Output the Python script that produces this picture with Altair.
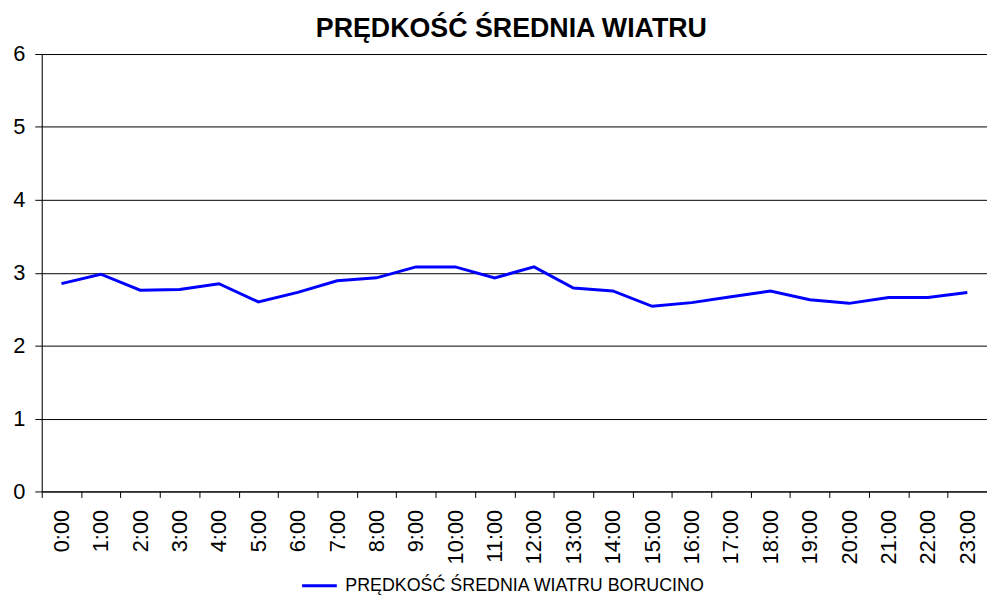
import altair as alt
import pandas as pd

hours = [f"{h}:00" for h in range(24)]
speed = [2.85, 2.98, 2.76, 2.77, 2.85, 2.60, 2.73, 2.89, 2.93, 3.08, 3.08, 2.93,
         3.08, 2.79, 2.75, 2.54, 2.59, 2.67, 2.75, 2.63, 2.58, 2.66, 2.66, 2.73]
series_name = "PRĘDKOŚĆ ŚREDNIA WIATRU BORUCINO"
title_text = "PRĘDKOŚĆ ŚREDNIA WIATRU"

df = pd.DataFrame({"hour": hours, "speed": speed, "series": [series_name] * len(hours)})

FONT = "Liberation Sans"

chart = alt.Chart(df).mark_line(strokeWidth=3).encode(
    x=alt.X("hour:N", sort=hours, title=None,
            scale=alt.Scale(paddingInner=0, paddingOuter=0),
            axis=alt.Axis(labelAngle=-90, labelFontSize=22, labelFont=FONT, labelColor="black",
                          tickBand="extent", tickSize=6, tickColor="black", domainColor="black",
                          labelPadding=12, grid=False, labelAlign="right", labelBaseline="middle")),
    y=alt.Y("speed:Q", title=None,
            scale=alt.Scale(domain=[0, 6], nice=False),
            axis=alt.Axis(values=[0, 1, 2, 3, 4, 5, 6], labelFontSize=22, labelFont=FONT,
                          labelColor="black", tickSize=7, tickColor="black", domainColor="black",
                          labelPadding=10, grid=True, gridColor="black", gridOpacity=1,
                          gridWidth=1)),
    color=alt.Color("series:N", scale=alt.Scale(range=["#0000FF"]),
                    legend=alt.Legend(title=None, orient="none", legendX=261, legendY=517,
                                      symbolType="stroke", symbolSize=1225, symbolStrokeWidth=3,
                                      labelFontSize=18, labelFont=FONT, labelColor="black",
                                      labelOffset=7, padding=0, labelLimit=600)),
).properties(
    width=953,
    height=441,
    title=alt.TitleParams(title_text, font=FONT, fontSize=27, fontWeight="bold",
                          color="black", anchor="middle", dx=-3, offset=0),
    autosize=alt.AutoSizeParams(type="none"),
    padding={"left": 34, "top": 44, "right": 0, "bottom": 102},
).configure_view(stroke=None).configure(background="white")

chart.save("out.html", embed_options={"renderer": "svg", "actions": False})
